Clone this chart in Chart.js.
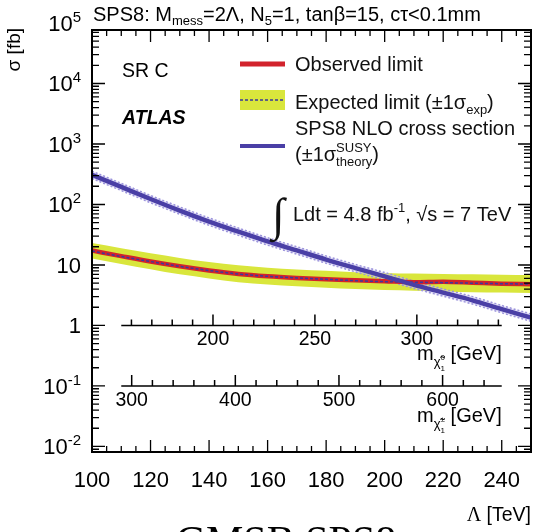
<!DOCTYPE html>
<html>
<head>
<meta charset="utf-8">
<script src="https://cdn.jsdelivr.net/npm/chart.js@4.4.1/dist/chart.umd.min.js"></script>
<style>
  body { margin: 0; background: #fff; }
  canvas { display: block; }
</style>
</head>
<body>
<canvas id="c" width="545" height="532"></canvas>
<script>
// Lambda [TeV] grid
const lambda = [100, 110, 120, 130, 140, 150, 160, 170, 180, 190, 200, 210, 220, 230, 240, 250];
// sigma [fb]
const observed = [17.3, 14.0, 11.4, 9.5, 8.1, 7.1, 6.5, 6.1, 5.8, 5.6, 5.4, 5.2, 5.3, 5.1, 4.9, 4.8];
const expected = [17.0, 13.8, 11.4, 9.5, 8.1, 7.1, 6.5, 6.1, 5.8, 5.5, 5.3, 5.2, 5.1, 5.0, 4.9, 4.85];
const expectedUp = [23.0, 18.9, 15.6, 13.1, 11.2, 9.9, 9.0, 8.4, 8.0, 7.6, 7.4, 7.2, 7.1, 7.0, 6.9, 6.8];
const expectedDown = [12.8, 10.4, 8.5, 7.0, 6.0, 5.2, 4.75, 4.45, 4.2, 4.0, 3.85, 3.75, 3.65, 3.55, 3.5, 3.45];
const theory = [309, 195, 123, 79, 52, 35.5, 24.5, 17.4, 12.3, 8.9, 6.5, 4.7, 3.5, 2.6, 1.86, 1.35];
const theoryUp = [355, 224, 141, 91, 60, 40.8, 28.2, 20.0, 14.1, 10.2, 7.5, 5.4, 4.0, 3.0, 2.14, 1.55];
const theoryDown = [269, 170, 107, 69, 45.2, 30.9, 21.3, 15.1, 10.7, 7.7, 5.65, 4.1, 3.05, 2.26, 1.62, 1.17];

// axis ticks
const xTickLabels = [100, 120, 140, 160, 180, 200, 220, 240];
const yTickValues = [1e-2, 1e-1, 1, 10, 1e2, 1e3, 1e4, 1e5];
const yTickLabels = [["10", "-2"], ["10", "-1"], ["1", ""], ["10", ""], ["10", "2"], ["10", "3"], ["10", "4"], ["10", "5"]];

// inner mass axes (mass at Lambda = 100 and 250 TeV)
const neutralinoRange = [140.65, 356.0];
const charginoRange = [261.7, 685.3];
const neutralinoTicks = [200, 250, 300];
const charginoTicks = [300, 400, 500, 600];

const SANS = '"Liberation Sans", Arial, Helvetica, sans-serif';
const SERIF = '"Liberation Serif", "Times New Roman", serif';
const RED = "#d2232c";
const BLUE = "#4a3fa6";
const YELLOW = "#d9e63c";

function pts(arr) {
  return lambda.map((l, i) => ({ x: l, y: arr[i] }));
}

function rich(ctx, x, y, parts, align) {
  let w = 0;
  parts.forEach((p) => {
    ctx.font = (p.w || "") + " " + p.s + "px " + (p.f || SANS);
    if (!p.noAdv) w += ctx.measureText(p.t).width;
  });
  let cx = align === "right" ? x - w : align === "center" ? x - w / 2 : x;
  parts.forEach((p) => {
    ctx.font = (p.w || "") + " " + p.s + "px " + (p.f || SANS);
    ctx.fillText(p.t, cx, y + (p.dy || 0));
    if (!p.noAdv) cx += ctx.measureText(p.t).width;
  });
}

function innerAxis(ctx, chart, scaleId, yValue, labels, minorFrom, minorTo, step, sup, yOff) {
  const x = chart.scales.x;
  const s = chart.scales[scaleId];
  const py = chart.scales.y.getPixelForValue(yValue);
  const x0 = x.getPixelForValue(110);
  const x1 = x.getPixelForValue(240);
  ctx.strokeStyle = "#000";
  ctx.lineWidth = 1.5;
  ctx.beginPath();
  ctx.moveTo(x0, py);
  ctx.lineTo(x1, py);
  for (let m = minorFrom; m <= minorTo; m += step) {
    const px = s.getPixelForValue(m);
    const len = labels.includes(m) ? 11 : 6;
    ctx.moveTo(px, py);
    ctx.lineTo(px, py - len);
  }
  ctx.stroke();
  ctx.fillStyle = "#000";
  labels.forEach((m) => {
    rich(ctx, s.getPixelForValue(m), py + 20, [{ t: String(m), s: 19.5 }], "center");
  });
  rich(ctx, x1, py + yOff, [
    { t: "m", s: 20 },
    { t: "\u03c7\u0303", s: 13, dy: 6 },
    { t: sup, s: 8, dy: 0, noAdv: true },
    { t: "1", s: 8, dy: 11 },
    { t: " [GeV]", s: 20 },
  ], "right");
}

const decorations = {
  id: "decorations",
  afterDatasetsDraw(chart) {
    const { ctx, chartArea: a, scales } = chart;
    const x = scales.x, y = scales.y;
    ctx.save();
    ctx.textAlign = "left";
    ctx.textBaseline = "alphabetic";

    // inner ticks on the frame
    ctx.strokeStyle = "#000";
    ctx.lineWidth = 1.3;
    ctx.beginPath();
    x.ticks.forEach((t) => {
      const px = x.getPixelForValue(t.value);
      const len = t.value % 20 === 0 ? 12 : 6;
      ctx.moveTo(px, a.bottom);
      ctx.lineTo(px, a.bottom - len);
      ctx.moveTo(px, a.top);
      ctx.lineTo(px, a.top + len);
    });
    for (let e = -3; e <= 5; e++) {
      for (let k = 1; k <= 9; k++) {
        const v = k * Math.pow(10, e);
        if (v < y.min || v > y.max) continue;
        const py = y.getPixelForValue(v);
        const len = k === 1 ? 13 : 7;
        ctx.moveTo(a.left, py);
        ctx.lineTo(a.left + len, py);
        ctx.moveTo(a.right, py);
        ctx.lineTo(a.right - len, py);
      }
    }
    ctx.stroke();
    ctx.lineWidth = 2;
    ctx.strokeRect(a.left, a.top, a.width, a.height);

    // y tick labels
    ctx.fillStyle = "#000";
    yTickValues.forEach((v, i) => {
      const py = y.getPixelForValue(v);
      const lab = yTickLabels[i];
      const parts = [{ t: lab[0], s: 22 }];
      if (lab[1]) parts.push({ t: lab[1], s: 15, dy: -9 });
      rich(ctx, 81, py + 8, parts, "right");
    });

    // inner mass axes
    innerAxis(ctx, chart, "xN", 1, neutralinoTicks, 160, 340, 10, "0", 35);
    innerAxis(ctx, chart, "xC", 0.1, charginoTicks, 300, 640, 20, "\u00b1", 36);

    // title
    rich(ctx, 93, 21, [
      { t: "SPS8: M", s: 20 },
      { t: "mess", s: 13, dy: 4 },
      { t: "=2\u039b, N", s: 20 },
      { t: "5", s: 13, dy: 4 },
      { t: "=1, tan\u03b2=15, c\u03c4<0.1mm", s: 20 },
    ]);

    // axis titles
    ctx.save();
    ctx.translate(20, 28);
    ctx.rotate(-Math.PI / 2);
    rich(ctx, 0, 0, [{ t: "\u03c3 [fb]", s: 19 }], "right");
    ctx.restore();
    rich(ctx, 531, 521, [{ t: "\u039b", s: 20, f: SERIF }, { t: " [TeV]", s: 19.5 }], "right");
    rich(ctx, 286, 555, [{ t: "GMSB SPS8", s: 42, f: SERIF }], "center");

    // labels in the frame
    rich(ctx, 122, 77, [{ t: "SR C", s: 19.5 }]);
    rich(ctx, 122, 124, [{ t: "ATLAS", s: 19.5, w: "italic bold" }]);

    // legend
    ctx.lineCap = "butt";
    ctx.strokeStyle = RED;
    ctx.lineWidth = 5;
    ctx.beginPath();
    ctx.moveTo(240, 64);
    ctx.lineTo(285, 64);
    ctx.stroke();
    ctx.fillStyle = YELLOW;
    ctx.fillRect(240, 90, 45, 20);
    ctx.strokeStyle = "#37379a";
    ctx.lineWidth = 1.5;
    ctx.setLineDash([3, 2]);
    ctx.beginPath();
    ctx.moveTo(240, 100);
    ctx.lineTo(285, 100);
    ctx.stroke();
    ctx.setLineDash([]);
    ctx.strokeStyle = BLUE;
    ctx.lineWidth = 4;
    ctx.beginPath();
    ctx.moveTo(240, 146);
    ctx.lineTo(285, 146);
    ctx.stroke();

    ctx.fillStyle = "#111";
    rich(ctx, 295, 71, [{ t: "Observed limit", s: 20 }]);
    rich(ctx, 295, 109, [
      { t: "Expected limit (\u00b11\u03c3", s: 20 },
      { t: "exp", s: 13, dy: 5 },
      { t: ")", s: 20 },
    ]);
    rich(ctx, 295, 135, [{ t: "SPS8 NLO cross section", s: 20 }]);
    rich(ctx, 295, 161, [
      { t: "(\u00b11\u03c3", s: 20 },
      { t: "SUSY", s: 13, dy: -9, noAdv: true },
      { t: "theory", s: 13, dy: 5 },
      { t: ")", s: 20 },
    ]);

    // luminosity
    rich(ctx, 272, 230, [{ t: "\u222b", s: 46, f: SERIF }]);
    rich(ctx, 293, 221, [
      { t: "Ldt = 4.8 fb", s: 20 },
      { t: "-1", s: 13, dy: -9 },
      { t: ", \u221as = 7 TeV", s: 20 },
    ]);
    ctx.restore();
  },
};

const ctx = document.getElementById("c").getContext("2d");
const myChart = new Chart(ctx, {
  type: "line",
  data: {
    datasets: [
      {
        label: "Expected +1 sigma",
        data: pts(expectedUp),
        borderWidth: 0,
        pointRadius: 0,
        fill: "+1",
        backgroundColor: YELLOW,
        cubicInterpolationMode: "monotone",
        order: 7,
        xAxisID: "x",
        yAxisID: "y",
      },
      {
        label: "Expected -1 sigma",
        data: pts(expectedDown),
        borderWidth: 0,
        pointRadius: 0,
        fill: false,
        cubicInterpolationMode: "monotone",
        order: 6,
        xAxisID: "x",
        yAxisID: "y",
      },
      {
        label: "Theory +1 sigma",
        data: pts(theoryUp),
        borderWidth: 1.5,
        borderColor: "#9c94dc",
        borderDash: [2, 2],
        pointRadius: 0,
        fill: "+1",
        backgroundColor: "rgba(205,200,242,0.55)",
        cubicInterpolationMode: "monotone",
        order: 5,
        xAxisID: "x",
        yAxisID: "y",
      },
      {
        label: "Theory -1 sigma",
        data: pts(theoryDown),
        borderWidth: 1.5,
        borderColor: "#9c94dc",
        borderDash: [2, 2],
        pointRadius: 0,
        fill: false,
        cubicInterpolationMode: "monotone",
        order: 4,
        xAxisID: "x",
        yAxisID: "y",
      },
      {
        label: "Observed limit",
        data: pts(observed),
        borderWidth: 4.5,
        borderColor: RED,
        pointRadius: 0,
        fill: false,
        cubicInterpolationMode: "monotone",
        order: 3,
        xAxisID: "x",
        yAxisID: "y",
      },
      {
        label: "Expected limit",
        data: pts(expected),
        borderWidth: 1.5,
        borderColor: "#3a3a9c",
        borderDash: [3, 2],
        pointRadius: 0,
        fill: false,
        cubicInterpolationMode: "monotone",
        order: 2,
        xAxisID: "x",
        yAxisID: "y",
      },
      {
        label: "SPS8 NLO cross section",
        data: pts(theory),
        borderWidth: 4.5,
        borderColor: BLUE,
        pointRadius: 0,
        fill: false,
        cubicInterpolationMode: "monotone",
        order: 1,
        xAxisID: "x",
        yAxisID: "y",
      },
    ],
  },
  options: {
    responsive: false,
    devicePixelRatio: 1,
    animation: false,
    layout: { padding: { top: 30, right: 14, left: 0, bottom: 0 } },
    plugins: {
      legend: { display: false },
      title: { display: false },
      tooltip: { enabled: false },
    },
    scales: {
      x: {
        type: "linear",
        position: "bottom",
        min: 100,
        max: 250,
        grid: { display: false },
        border: { display: false },
        afterFit: (s) => { s.height = 80; },
        ticks: {
          stepSize: 5,
          autoSkip: false,
          maxRotation: 0,
          padding: 8,
          color: "#000",
          font: { family: SANS, size: 22 },
          callback: (v) => (xTickLabels.includes(v) ? String(v) : ""),
        },
      },
      xN: {
        type: "linear",
        position: "bottom",
        display: false,
        min: neutralinoRange[0],
        max: neutralinoRange[1],
      },
      xC: {
        type: "linear",
        position: "bottom",
        display: false,
        min: charginoRange[0],
        max: charginoRange[1],
      },
      y: {
        type: "logarithmic",
        position: "left",
        min: 0.0081,
        max: 76600,
        grid: { display: false },
        border: { display: false },
        ticks: { display: false },
        afterFit: (s) => { s.width = 92; },
      },
    },
  },
  plugins: [decorations],
});
</script>
</body>
</html>
